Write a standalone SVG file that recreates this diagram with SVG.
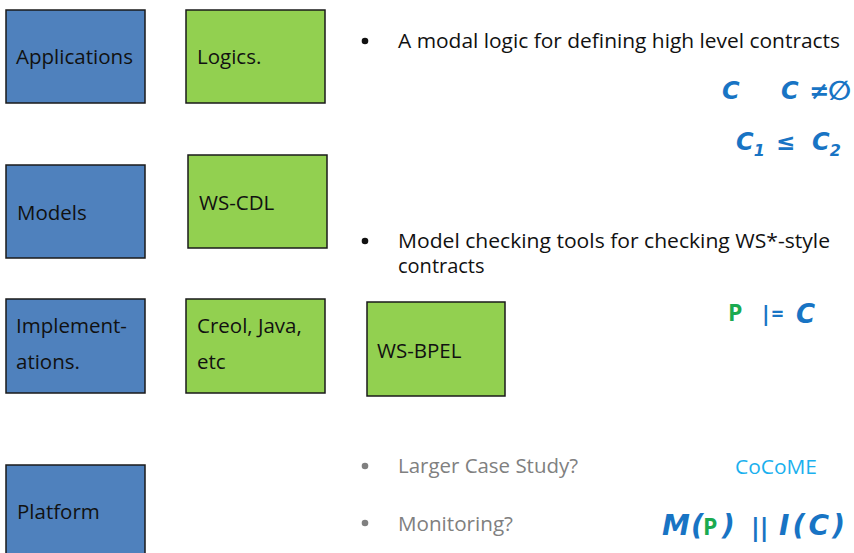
<svg xmlns="http://www.w3.org/2000/svg" width="854" height="553" viewBox="0 0 854 553">
<style>
.blue{fill:#4f81bd;stroke:#1a1a1a;stroke-width:1.5}
.green{fill:#92d050;stroke:#1a1a1a;stroke-width:1.5}
.lbl{font-family:"Open Sans","Liberation Sans",sans-serif;font-size:20.5px;fill:#111}
.bt{font-family:"Open Sans","Liberation Sans",sans-serif;font-size:20px;fill:#111}
.gt{font-family:"Open Sans","Liberation Sans",sans-serif;font-size:20px;fill:#808080}
.m{font-family:"DejaVu Sans",sans-serif;font-weight:bold;font-style:italic;fill:#1874c4}
.mp{font-family:"Open Sans","Liberation Sans",sans-serif;font-weight:bold;fill:#1aaa50}
</style>
<g id="applications"><rect class="blue" x="6" y="10" width="139" height="93"/><text class="lbl" x="16" y="64" textLength="117" lengthAdjust="spacingAndGlyphs">Applications</text></g>
<g id="logics"><rect class="green" x="186" y="10" width="139" height="93"/><text class="lbl" x="197" y="64">Logics.</text></g>
<g id="models"><rect class="blue" x="6" y="165" width="139" height="93"/><text class="lbl" x="17" y="220">Models</text></g>
<g id="wscdl"><rect class="green" x="188" y="155" width="139" height="93"/><text class="lbl" x="199" y="210">WS-CDL</text></g>
<g id="implementations"><rect class="blue" x="6" y="299" width="139" height="94"/><text class="lbl" x="16" y="333">Implement-</text><text class="lbl" x="16" y="369">ations.</text></g>
<g id="creol"><rect class="green" x="186" y="299" width="139" height="94"/><text class="lbl" x="197" y="333">Creol, Java,</text><text class="lbl" x="197" y="369">etc</text></g>
<g id="wsbpel"><rect class="green" x="367" y="302" width="138" height="94"/><text class="lbl" x="377" y="358">WS-BPEL</text></g>
<g id="platform"><rect class="blue" x="6" y="465" width="139" height="95"/><text class="lbl" x="17" y="519">Platform</text></g>
<g id="connectors"></g>
<g id="bullets">
<circle cx="365" cy="41" r="3.3" fill="#111"/>
<text class="bt" x="398" y="48" textLength="442" lengthAdjust="spacingAndGlyphs">A modal logic for defining high level contracts</text>
<circle cx="365" cy="241" r="3.3" fill="#111"/>
<text class="bt" x="398" y="248" textLength="432" lengthAdjust="spacingAndGlyphs">Model checking tools for checking WS*-style</text>
<text class="bt" x="398" y="273">contracts</text>
<circle cx="365" cy="466" r="3.3" fill="#808080"/>
<text class="gt" x="398" y="473" textLength="180" lengthAdjust="spacingAndGlyphs">Larger Case Study?</text>
<circle cx="365" cy="523" r="3.3" fill="#808080"/>
<text class="gt" x="398" y="531" textLength="115" lengthAdjust="spacingAndGlyphs">Monitoring?</text>
</g>
<g id="math">
<text class="m" x="722" y="99" font-size="24">C</text>
<text class="m" x="781" y="99" font-size="24">C</text>
<text class="m" x="809" y="99" font-size="24">≠</text>
<text class="m" x="828" y="100" font-size="27">∅</text>
<text class="m" x="736" y="150" font-size="24">C<tspan font-size="16" dy="6">1</tspan></text>
<text class="m" x="776" y="150" font-size="23">≤</text>
<text class="m" x="812" y="150" font-size="24">C<tspan font-size="16" dy="6">2</tspan></text>
<text class="mp" x="728" y="321" font-size="23">P</text>
<text x="760" y="321" font-size="21" font-family="Open Sans,sans-serif" font-weight="bold" fill="#1874c4">|=</text>
<text class="m" x="796" y="323" font-size="26">C</text>
<text x="735" y="474" font-size="20" font-family="Open Sans,sans-serif" fill="#1ab0ee" textLength="82" lengthAdjust="spacingAndGlyphs">CoCoME</text>
<text class="m" x="662" y="535" font-size="28">M</text>
<text class="m" x="691" y="535" font-size="28">(</text>
<text class="mp" x="703" y="535" font-size="23">P</text>
<text class="m" x="722" y="535" font-size="28">)</text>
<text x="751" y="536" font-size="24" font-family="DejaVu Sans,sans-serif" font-weight="bold" fill="#1874c4">||</text>
<text class="m" x="779" y="535" font-size="28" textLength="66" lengthAdjust="spacing">I(C)</text>
</g>
</svg>
